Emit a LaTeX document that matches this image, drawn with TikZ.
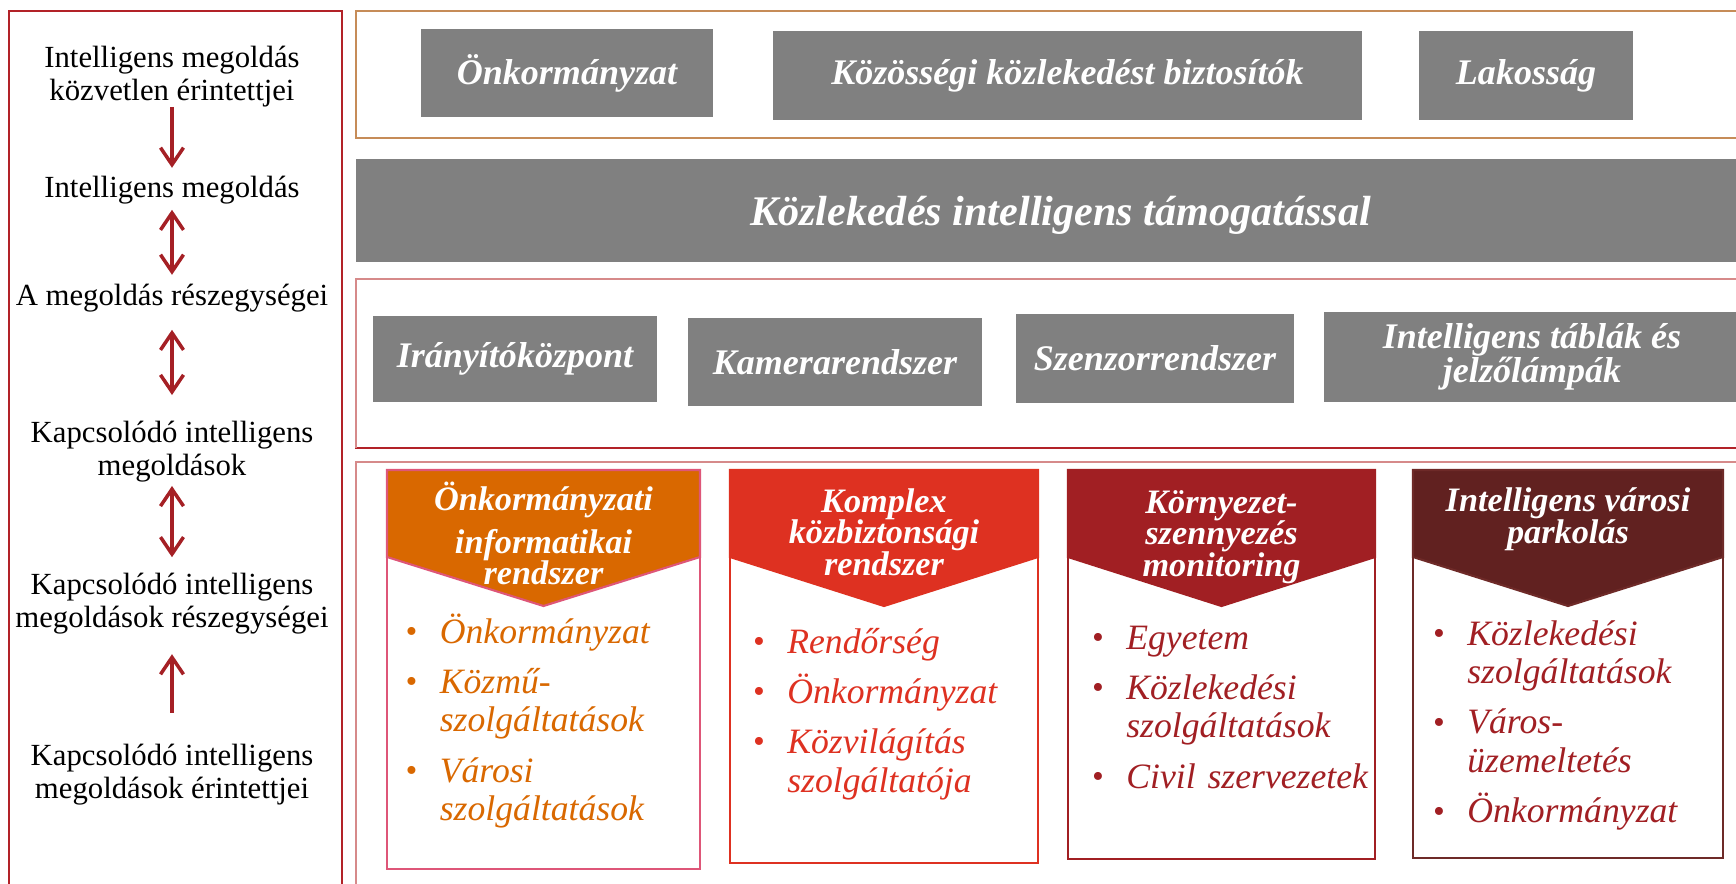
\documentclass[tikz,border=0pt]{standalone}
\usepackage{fontspec}
\setmainfont{Liberation Serif}
\usetikzlibrary{arrows.meta}
\definecolor{arrred}{RGB}{165,32,37}
\definecolor{frametan}{RGB}{198,140,88}
\definecolor{framepink}{RGB}{214,138,138}
\definecolor{framered}{RGB}{178,34,40}
\definecolor{boxgrey}{RGB}{128,128,128}
\definecolor{cardone}{RGB}{217,104,0}
\definecolor{cardonerim}{RGB}{222,86,120}
\definecolor{cardtwo}{RGB}{222,49,33}
\definecolor{cardthree}{RGB}{161,31,35}
\definecolor{cardfour}{RGB}{97,33,32}
\definecolor{cardfourrim}{RGB}{110,42,40}
\tikzset{lefttext/.style = {align=center, inner sep=0, font=\fontsize{17.5}{18.8}\selectfont}}
\tikzset{greybox/.style = {fill=boxgrey, text=white, inner sep=0, align=center,
                           font=\fontsize{20.5}{19.3}\selectfont\bfseries\itshape}}
\tikzset{cardhead/.style = {text=white, inner sep=0, align=center,
                            font=\fontsize{19.5}{18}\selectfont\bfseries\itshape}}
\tikzset{cardlist/.style = {inner sep=0, anchor=base west, text width=7cm, align=left,
                            font=\fontsize{20.3}{22}\selectfont\itshape}}
\tikzset{down/.style = {draw=arrred, line width=2pt,
                        -{Straight Barb[length=0.34cm,width=0.46cm]}}}
\tikzset{updown/.style = {draw=arrred, line width=2pt,
                          {Straight Barb[length=0.34cm,width=0.46cm]}-{Straight Barb[length=0.34cm,width=0.46cm]}}}
\newcommand{\bitem}[1]{\noindent\hangindent=0.69cm\hangafter=1%
  \makebox[0.69cm][l]{\raisebox{0.02em}{\fontsize{19}{19}\selectfont\textbullet}}#1\par\vspace{6.6pt}}

\begin{document}
\begin{tikzpicture}[x=0.02cm, y=-0.02cm]
      \useasboundingbox (0,0) rectangle (1736,884);
      \draw [framered, line width=1pt] (9,11) rectangle (342,900);
      \draw [frametan, line width=0.9pt] (356,11) rectangle (1750,138);
      \draw [framered, line width=0.9pt] (356,279) rectangle (1750,448);
      \draw [framepink, line width=0.9pt] (1750,279) -- (356,279) -- (356,448);
      \draw [framepink, line width=0.9pt] (356,462) rectangle (1750,900);

      \node [lefttext] (lt1) at (172,76.4) {Intelligens megoldás\\közvetlen érintettjei};
      \node [lefttext] (lt2) at (172,190.3) {Intelligens megoldás};
      \node [lefttext] (lt3) at (172,297.8) {A megoldás részegységei};
      \node [lefttext] (lt4) at (172,451.5) {Kapcsolódó intelligens\\megoldások};
      \node [lefttext] (lt5) at (172,603.2) {Kapcsolódó intelligens\\megoldások részegységei};
      \node [lefttext] (lt6) at (172,774.9) {Kapcsolódó intelligens\\megoldások érintettjei};
      \draw [down, shorten <=0.61cm, shorten >=0.45cm] (lt1.center) -- (lt2.center);
      \draw [updown, shorten <=0.39cm, shorten >=0.46cm] (lt2.center) -- (lt3.center);
      \draw [updown, shorten <=0.64cm, shorten >=1.13cm] (lt3.center) -- (lt4.center);
      \draw [updown, shorten <=0.69cm, shorten >=0.92cm] (lt4.center) -- (lt5.center);
      \draw [down, shorten <=1.24cm, shorten >=1.02cm] (lt6.center) -- (lt5.center);

      \node [greybox, minimum width=5.84cm, minimum height=1.76cm] (onk) at (567,73) {Önkormányzat};
      \node [greybox, minimum width=11.78cm, minimum height=1.78cm] (kozos) at (1067.5,75.5) {Közösségi közlekedést biztosítók};
      \node [greybox, minimum width=4.28cm, minimum height=1.78cm] (lakos) at (1526,75.5) {Lakosság};
      \node [greybox, minimum width=28.18cm, minimum height=2.06cm, text depth=0pt,
             font=\fontsize{24}{24}\selectfont\bfseries\itshape] (kozl) at (1060.5,210.5) {Közlekedés intelligens támogatással};
      \node [greybox, minimum width=5.68cm, minimum height=1.72cm] (iranyito) at (515,359) {Irányítóközpont};
      \node [greybox, minimum width=5.88cm, minimum height=1.76cm] (kamera) at (835,362) {Kamerarendszer};
      \node [greybox, minimum width=5.56cm, minimum height=1.78cm] (szenzor) at (1155,358.5) {Szenzorrendszer};
      \node [greybox, minimum width=8.32cm, minimum height=1.8cm] (tablak) at (1532,357) {Intelligens táblák és\\jelzőlámpák};

      \foreach \xl/\xr/\yb/\cfill/\crim in {387/700/869/cardone/cardonerim, 730/1038/863/cardtwo/cardtwo,
                                           1068/1375/859/cardthree/cardthree, 1413/1723/858/cardfour/cardfourrim} {
        \draw [draw=\crim, line width=1.2pt, fill=white] (\xl,470) rectangle (\xr,\yb);
        \filldraw [fill=\cfill, draw=\crim, line width=1.2pt] (\xl,470) -- (\xr,470) -- (\xr,557)
          -- ({(\xl+\xr)/2},606) -- (\xl,557) -- cycle;
      }
      \node [cardhead] (h1) at (543.5,533) {Önkormányzati\\[6.5pt]informatikai\\[-0.4pt]rendszer};
      \node [cardhead] (h2) at (884,532) {Komplex\\közbiztonsági\\rendszer};
      \node [cardhead] (h3) at (1221.5,537) {Környezet-\\szennyezés\\monitoring};
      \node [cardhead] (h4) at (1568,519) {Intelligens városi\\parkolás};

      \node [cardlist, text=cardone] (l1) at (405,643)
        {\bitem{Önkormányzat}\bitem{Közmű-\newline szolgáltatások}\bitem{Városi\newline szolgáltatások}};
      \node [cardlist, text=cardtwo] (l2) at (752.5,653)
        {\bitem{Rendőrség}\bitem{Önkormányzat}\bitem{Közvilágítás\newline szolgáltatója}};
      \node [cardlist, text=cardthree] (l3) at (1091.5,649)
        {\bitem{Egyetem}\bitem{Közlekedési\newline szolgáltatások}\bitem{Civil szervezetek}};
      \node [cardlist, text=cardthree] (l4) at (1432.5,645)
        {\bitem{Közlekedési\newline szolgáltatások}\bitem{Város-\newline üzemeltetés}\bitem{Önkormányzat}};
    \end{tikzpicture}
\end{document}
